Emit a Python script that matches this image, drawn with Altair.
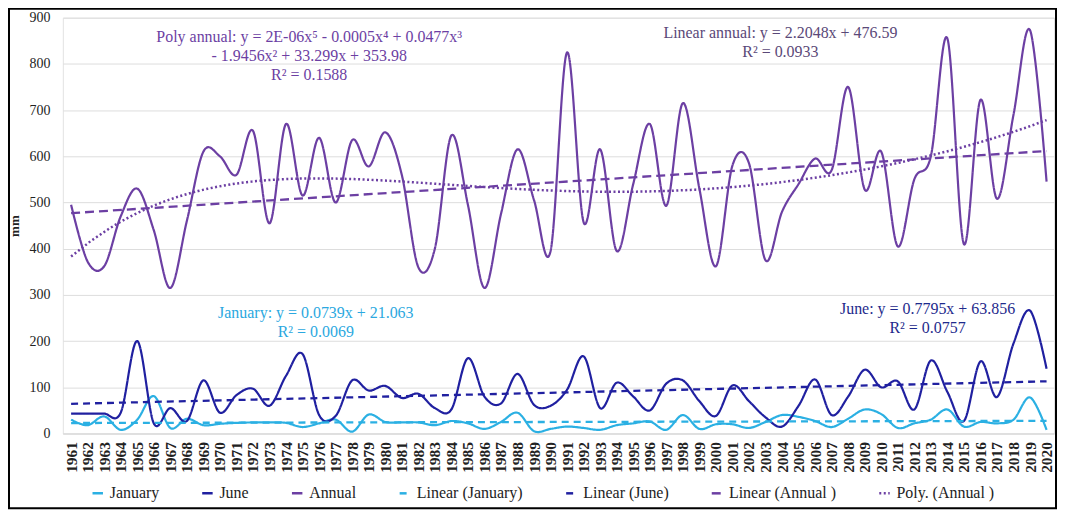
import altair as alt
import pandas as pd

years = list(range(1961, 2021))

january = [30, 18, 37, 8, 30, 81, 12, 32, 18, 21,
           23, 24, 24, 23, 14, 22, 30, 4, 41, 25,
           24, 24, 18, 27, 22, 10, 25, 45, 5, 10,
           15, 12, 8, 18, 22, 26, 8, 40, 10, 20,
           20, 12, 25, 40, 36, 27, 14, 32, 52, 42,
           12, 22, 30, 52, 15, 25, 22, 30, 78, 8]

june = [43, 43, 43, 45, 200, 22, 55, 27, 115, 45,
        83, 97, 60, 125, 172, 40, 38, 115, 93, 103,
        77, 86, 55, 52, 163, 80, 65, 129, 62, 60,
        95, 167, 55, 110, 80, 50, 108, 115, 70, 38,
        104, 70, 35, 15, 60, 117, 40, 80, 138, 100,
        113, 52, 158, 90, 27, 156, 79, 195, 266, 140]

annual = [495, 372, 362, 470, 530, 440, 315, 460, 610, 600,
          560, 655, 455, 670, 515, 640, 500, 635, 578, 652,
          560, 360, 400, 645, 495, 315, 475, 615, 505, 395,
          825, 457, 615, 395, 540, 670, 493, 715, 530, 362,
          580, 585, 375, 480, 540, 595, 570, 750, 528, 610,
          405, 550, 600, 855, 410, 722, 508, 690, 873, 545]

series_names = ["January", "June", "Annual", "Linear (January)",
                "Linear (June)", "Linear (Annual )", "Poly. (Annual )"]
series_colors = ["#2BB0E3", "#2020A0", "#6C3FA3", "#2BB0E3",
                 "#2020A0", "#6C3FA3", "#6C3FA3"]
series_dashes = [[1, 0], [1, 0], [1, 0], [7, 5], [7, 5], [9, 5], [2, 2.5]]

df = pd.DataFrame({
    "Year": years * 3,
    "value": january + june + annual,
    "series": ["January"] * 60 + ["June"] * 60 + ["Annual"] * 60,
})

FONT = "Liberation Serif"

legend = alt.Legend(
    title=None, orient="none", direction="horizontal", legendX=27, legendY=469,
    symbolType="stroke", symbolStrokeWidth=2.5, symbolSize=110,
    labelFont=FONT, labelFontSize=16, labelColor="#222", columnPadding=37,
    labelOffset=4,
)

x_enc = alt.X(
    "Year:Q",
    scale=alt.Scale(domain=[1960.5, 2020.45], nice=False, zero=False),
    axis=alt.Axis(values=years, tickCount=100, format="d", labelAngle=270, labelFont=FONT,
                  labelFontSize=15.5, labelFontWeight="bold", labelColor="#222",
                  labelPadding=8, ticks=False, domain=True, domainColor="#D9D9D9",
                  grid=False, title=None, labelOverlap=False),
)
y_enc = alt.Y(
    "value:Q",
    scale=alt.Scale(domain=[0, 900], nice=False),
    axis=alt.Axis(values=list(range(0, 901, 100)), labelFont=FONT, labelFontSize=14,
                  labelColor="#222", labelPadding=13, ticks=False, domain=False,
                  gridColor="#DDDDDD", title="mm", titleFont=FONT, titleFontSize=13,
                  titleFontWeight="bold", titleColor="#222", titlePadding=7),
)
color_enc = alt.Color("series:N", scale=alt.Scale(domain=series_names, range=series_colors),
                      legend=legend)
dash_enc = alt.StrokeDash("series:N", scale=alt.Scale(domain=series_names, range=series_dashes),
                          legend=legend)

base = alt.Chart(df)

raw = base.mark_line(interpolate="cardinal", strokeWidth=2.2).encode(
    x=x_enc, y=y_enc, color=color_enc, strokeDash=dash_enc)

linear = base.transform_regression(
    "Year", "value", groupby=["series"]
).transform_calculate(
    series="'Linear (' + datum.series + (datum.series == 'Annual' ? ' )' : ')')"
).mark_line(strokeWidth=2.3).encode(
    x=x_enc, y=y_enc, color=color_enc, strokeDash=dash_enc)

poly = base.transform_filter(
    "datum.series == 'Annual'"
).transform_regression(
    "Year", "value", method="poly", order=5
).transform_calculate(
    series="'Poly. (Annual )'"
).mark_line(strokeWidth=2.5).encode(
    x=x_enc, y=y_enc, color=color_enc, strokeDash=dash_enc)

one = pd.DataFrame({"k": [0]})


def note(lines, yr, val, color):
    return alt.Chart(one).mark_text(
        align="center", baseline="top", font=FONT, fontSize=16, lineHeight=19, color=color
    ).encode(x=alt.datum(yr), y=alt.datum(val), text=alt.value(lines))


notes = [
    note(["Poly annual: y = 2E-06x\u2075 - 0.0005x\u2074 + 0.0477x\u00b3",
          "- 1.9456x\u00b2 + 33.299x + 353.98", "R\u00b2 = 0.1588"],
         1975.4, 876, "#6C3FA3"),
    note(["Linear annual: y = 2.2048x + 476.59", "R\u00b2 = 0.0933"],
         2003.9, 885, "#5A4878"),
    note(["January: y = 0.0739x + 21.063", "R\u00b2 = 0.0069"],
         1975.8, 279, "#2BA8E0"),
    note(["June: y = 0.7795x + 63.856", "R\u00b2 = 0.0757"],
         2012.8, 286, "#1E2A8C"),
]

frame = alt.Chart(one).mark_rect(filled=False, stroke="black", strokeWidth=2).encode(
    x=alt.value(-54), x2=alt.value(996), y=alt.value(-9), y2=alt.value(492))

chart = alt.layer(raw, linear, poly, *notes, frame).properties(
    width=994, height=417, autosize="none",
    padding={"left": 55, "top": 9, "right": 3, "bottom": 78},
).configure_view(stroke="#E2E2E2").configure_axisX(labelOverlap=False)

chart.save("out.html", embed_options={"renderer": "svg", "actions": False})
